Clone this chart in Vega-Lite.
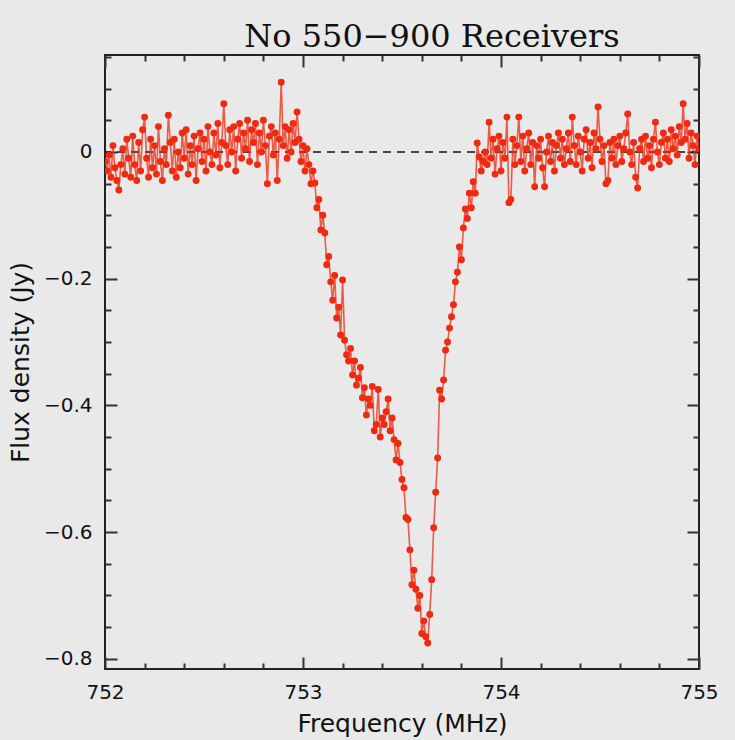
{
  "$schema": "https://vega.github.io/schema/vega-lite/v6.json",
  "width": 594,
  "height": 614,
  "autosize": {"type": "none"},
  "padding": {"left": 105, "top": 55, "right": 36, "bottom": 71},
  "background": "#e9e9e9",
  "title": {"text": "No 550\u2212900 Receivers", "font": "DejaVu Serif", "fontSize": 32, "fontWeight": "normal", "color": "#111111", "anchor": "middle", "dx": 30, "dy": 40, "offset": 8, "baseline": "alphabetic"},
  "config": {
    "view": {"fill": "#e9e9e9", "stroke": "#222222", "strokeWidth": 2},
    "axis": {"labelFont": "DejaVu Sans", "labelFontSize": 20, "labelColor": "#111111", "titleFont": "DejaVu Sans", "titleFontSize": 25, "titleFontWeight": "normal", "titleColor": "#111111", "tickColor": "#333333", "tickWidth": 2, "domain": false, "grid": false, "labelOverlap": false}
  },
  "datasets": {
    "zero": [{"y": 0}],
    "spec": [
      {"f":752.00,"s":-0.015},{"f":752.01,"s":-0.03},{"f":752.02,"s":-0.005},{"f":752.03,"s":-0.04},{"f":752.04,"s":0.01},
      {"f":752.05,"s":-0.025},{"f":752.06,"s":-0.045},{"f":752.07,"s":-0.06},{"f":752.08,"s":-0.02},{"f":752.09,"s":0.005},
      {"f":752.10,"s":-0.035},{"f":752.11,"s":0.02},{"f":752.12,"s":-0.01},{"f":752.13,"s":-0.04},{"f":752.14,"s":0.025},
      {"f":752.15,"s":-0.02},{"f":752.16,"s":-0.045},{"f":752.17,"s":0.015},{"f":752.18,"s":-0.03},{"f":752.19,"s":0.035},
      {"f":752.20,"s":0.055},{"f":752.21,"s":-0.01},{"f":752.22,"s":-0.04},{"f":752.23,"s":0.02},{"f":752.24,"s":-0.025},
      {"f":752.25,"s":0.01},{"f":752.26,"s":-0.035},{"f":752.27,"s":0.04},{"f":752.28,"s":-0.015},{"f":752.29,"s":-0.045},
      {"f":752.30,"s":0.005},{"f":752.31,"s":-0.02},{"f":752.32,"s":0.058},{"f":752.33,"s":0.015},{"f":752.34,"s":-0.03},
      {"f":752.35,"s":0.02},{"f":752.36,"s":-0.04},{"f":752.37,"s":0.0},{"f":752.38,"s":-0.025},{"f":752.39,"s":0.03},
      {"f":752.40,"s":-0.01},{"f":752.41,"s":0.035},{"f":752.42,"s":-0.035},{"f":752.43,"s":0.01},{"f":752.44,"s":-0.02},
      {"f":752.45,"s":0.025},{"f":752.46,"s":-0.045},{"f":752.47,"s":0.005},{"f":752.48,"s":0.03},{"f":752.49,"s":-0.015},
      {"f":752.50,"s":0.02},{"f":752.51,"s":-0.03},{"f":752.52,"s":0.04},{"f":752.53,"s":0.0},{"f":752.54,"s":-0.02},
      {"f":752.55,"s":0.03},{"f":752.56,"s":-0.005},{"f":752.57,"s":0.045},{"f":752.58,"s":-0.025},{"f":752.59,"s":0.015},
      {"f":752.60,"s":0.076},{"f":752.61,"s":0.01},{"f":752.62,"s":-0.02},{"f":752.63,"s":0.035},{"f":752.64,"s":0.0},
      {"f":752.65,"s":0.04},{"f":752.66,"s":-0.03},{"f":752.67,"s":0.02},{"f":752.68,"s":0.045},{"f":752.69,"s":-0.01},
      {"f":752.70,"s":0.03},{"f":752.71,"s":0.005},{"f":752.72,"s":0.05},{"f":752.73,"s":-0.015},{"f":752.74,"s":0.035},
      {"f":752.75,"s":0.015},{"f":752.76,"s":0.045},{"f":752.77,"s":-0.02},{"f":752.78,"s":0.03},{"f":752.79,"s":0.0},
      {"f":752.80,"s":0.05},{"f":752.81,"s":0.01},{"f":752.82,"s":-0.05},{"f":752.83,"s":0.025},{"f":752.84,"s":0.04},
      {"f":752.85,"s":-0.005},{"f":752.86,"s":0.03},{"f":752.87,"s":-0.045},{"f":752.88,"s":0.02},{"f":752.89,"s":0.11},
      {"f":752.90,"s":0.01},{"f":752.91,"s":0.04},{"f":752.92,"s":-0.01},{"f":752.93,"s":0.035},{"f":752.94,"s":0.0},
      {"f":752.95,"s":0.045},{"f":752.96,"s":0.015},{"f":752.97,"s":0.063},{"f":752.98,"s":0.02},{"f":752.99,"s":-0.015},
      {"f":753.00,"s":0.01},{"f":753.01,"s":-0.03},{"f":753.02,"s":0.005},{"f":753.03,"s":-0.02},{"f":753.04,"s":-0.05},
      {"f":753.05,"s":-0.03},{"f":753.06,"s":-0.049},{"f":753.07,"s":-0.088},{"f":753.08,"s":-0.075},{"f":753.09,"s":-0.123},
      {"f":753.10,"s":-0.10},{"f":753.11,"s":-0.128},{"f":753.12,"s":-0.178},{"f":753.13,"s":-0.165},{"f":753.14,"s":-0.205},
      {"f":753.15,"s":-0.234},{"f":753.16,"s":-0.195},{"f":753.17,"s":-0.262},{"f":753.18,"s":-0.245},{"f":753.19,"s":-0.289},
      {"f":753.20,"s":-0.202},{"f":753.21,"s":-0.297},{"f":753.22,"s":-0.32},{"f":753.23,"s":-0.33},{"f":753.24,"s":-0.31},
      {"f":753.25,"s":-0.352},{"f":753.26,"s":-0.33},{"f":753.27,"s":-0.368},{"f":753.28,"s":-0.357},{"f":753.29,"s":-0.34},
      {"f":753.30,"s":-0.388},{"f":753.31,"s":-0.372},{"f":753.32,"s":-0.415},{"f":753.33,"s":-0.39},{"f":753.34,"s":-0.40},
      {"f":753.35,"s":-0.37},{"f":753.36,"s":-0.44},{"f":753.37,"s":-0.43},{"f":753.38,"s":-0.375},{"f":753.39,"s":-0.45},
      {"f":753.40,"s":-0.42},{"f":753.41,"s":-0.43},{"f":753.42,"s":-0.41},{"f":753.43,"s":-0.39},{"f":753.44,"s":-0.44},
      {"f":753.45,"s":-0.42},{"f":753.46,"s":-0.454},{"f":753.47,"s":-0.486},{"f":753.48,"s":-0.46},{"f":753.49,"s":-0.49},
      {"f":753.50,"s":-0.517},{"f":753.51,"s":-0.53},{"f":753.52,"s":-0.577},{"f":753.53,"s":-0.58},{"f":753.54,"s":-0.628},
      {"f":753.55,"s":-0.683},{"f":753.56,"s":-0.66},{"f":753.57,"s":-0.69},{"f":753.58,"s":-0.72},{"f":753.59,"s":-0.70},
      {"f":753.60,"s":-0.76},{"f":753.61,"s":-0.74},{"f":753.62,"s":-0.765},{"f":753.63,"s":-0.775},{"f":753.64,"s":-0.73},
      {"f":753.65,"s":-0.675},{"f":753.66,"s":-0.593},{"f":753.67,"s":-0.537},{"f":753.68,"s":-0.483},{"f":753.69,"s":-0.376},
      {"f":753.70,"s":-0.39},{"f":753.71,"s":-0.36},{"f":753.72,"s":-0.313},{"f":753.73,"s":-0.30},{"f":753.74,"s":-0.278},
      {"f":753.75,"s":-0.26},{"f":753.76,"s":-0.241},{"f":753.77,"s":-0.205},{"f":753.78,"s":-0.19},{"f":753.79,"s":-0.15},
      {"f":753.80,"s":-0.17},{"f":753.81,"s":-0.12},{"f":753.82,"s":-0.09},{"f":753.83,"s":-0.105},{"f":753.84,"s":-0.065},
      {"f":753.85,"s":-0.088},{"f":753.86,"s":-0.047},{"f":753.87,"s":-0.065},{"f":753.88,"s":0.014},{"f":753.89,"s":-0.008},
      {"f":753.90,"s":-0.03},{"f":753.91,"s":-0.015},{"f":753.92,"s":0.0},{"f":753.93,"s":-0.02},{"f":753.94,"s":0.047},
      {"f":753.95,"s":-0.01},{"f":753.96,"s":0.02},{"f":753.97,"s":-0.035},{"f":753.98,"s":0.005},{"f":753.99,"s":0.025},
      {"f":754.00,"s":-0.03},{"f":754.01,"s":0.015},{"f":754.02,"s":-0.01},{"f":754.03,"s":0.055},{"f":754.04,"s":-0.08},
      {"f":754.05,"s":-0.075},{"f":754.06,"s":0.02},{"f":754.07,"s":-0.02},{"f":754.08,"s":0.01},{"f":754.09,"s":0.055},
      {"f":754.10,"s":-0.015},{"f":754.11,"s":0.025},{"f":754.12,"s":-0.03},{"f":754.13,"s":0.005},{"f":754.14,"s":0.03},
      {"f":754.15,"s":-0.02},{"f":754.16,"s":0.015},{"f":754.17,"s":-0.055},{"f":754.18,"s":0.01},{"f":754.19,"s":-0.01},
      {"f":754.20,"s":0.02},{"f":754.21,"s":-0.025},{"f":754.22,"s":-0.055},{"f":754.23,"s":0.0},{"f":754.24,"s":0.025},
      {"f":754.25,"s":-0.015},{"f":754.26,"s":0.015},{"f":754.27,"s":-0.03},{"f":754.28,"s":0.01},{"f":754.29,"s":0.03},
      {"f":754.30,"s":-0.01},{"f":754.31,"s":0.02},{"f":754.32,"s":-0.02},{"f":754.33,"s":0.005},{"f":754.34,"s":0.03},
      {"f":754.35,"s":-0.015},{"f":754.36,"s":0.055},{"f":754.37,"s":0.01},{"f":754.38,"s":-0.02},{"f":754.39,"s":0.025},
      {"f":754.40,"s":0.0},{"f":754.41,"s":-0.03},{"f":754.42,"s":0.02},{"f":754.43,"s":0.035},{"f":754.44,"s":-0.01},
      {"f":754.45,"s":0.015},{"f":754.46,"s":-0.025},{"f":754.47,"s":0.03},{"f":754.48,"s":0.005},{"f":754.49,"s":0.071},
      {"f":754.50,"s":0.02},{"f":754.51,"s":-0.015},{"f":754.52,"s":0.01},{"f":754.53,"s":-0.05},{"f":754.54,"s":-0.045},
      {"f":754.55,"s":0.015},{"f":754.56,"s":-0.01},{"f":754.57,"s":0.02},{"f":754.58,"s":-0.02},{"f":754.59,"s":0.01},
      {"f":754.60,"s":0.025},{"f":754.61,"s":-0.015},{"f":754.62,"s":0.005},{"f":754.63,"s":0.03},{"f":754.64,"s":0.06},
      {"f":754.65,"s":0.0},{"f":754.66,"s":-0.02},{"f":754.67,"s":0.015},{"f":754.68,"s":-0.04},{"f":754.69,"s":-0.057},
      {"f":754.70,"s":0.005},{"f":754.71,"s":0.02},{"f":754.72,"s":-0.015},{"f":754.73,"s":0.025},{"f":754.74,"s":-0.01},
      {"f":754.75,"s":0.01},{"f":754.76,"s":-0.025},{"f":754.77,"s":0.02},{"f":754.78,"s":0.047},{"f":754.79,"s":0.0},
      {"f":754.80,"s":-0.02},{"f":754.81,"s":0.015},{"f":754.82,"s":0.03},{"f":754.83,"s":-0.01},{"f":754.84,"s":0.02},
      {"f":754.85,"s":-0.015},{"f":754.86,"s":0.035},{"f":754.87,"s":0.005},{"f":754.88,"s":0.025},{"f":754.89,"s":-0.005},
      {"f":754.90,"s":0.04},{"f":754.91,"s":0.015},{"f":754.92,"s":0.076},{"f":754.93,"s":0.02},{"f":754.94,"s":0.045},
      {"f":754.95,"s":-0.01},{"f":754.96,"s":0.03},{"f":754.97,"s":0.01},{"f":754.98,"s":-0.02},{"f":754.99,"s":0.025},
      {"f":755.00,"s":0.005}
    ]
  },
  "layer": [
    {
      "data": {"name": "zero"},
      "mark": {"type": "rule", "color": "#111111", "strokeWidth": 1.6, "strokeDash": [8, 6]},
      "encoding": {
        "y": {"field": "y", "type": "quantitative", "scale": {"domain": [-0.816, 0.153], "nice": false, "zero": false}, "axis": null}
      }
    },
    {
      "data": {"name": "spec"},
      "mark": {"type": "line", "color": "#ee2a10", "strokeWidth": 1.6, "opacity": 0.75, "clip": true},
      "encoding": {
        "x": {"field": "f", "type": "quantitative", "scale": {"domain": [752, 755], "nice": false, "zero": false},
          "axis": {"orient": "bottom", "title": "Frequency (MHz)", "titlePadding": 3, "tickCount": 16,
            "values": [752, 752.2, 752.4, 752.6, 752.8, 753, 753.2, 753.4, 753.6, 753.8, 754, 754.2, 754.4, 754.6, 754.8, 755],
            "labelPadding": 25, "labelFlush": false,
            "labelExpr": "abs(datum.value - round(datum.value)) < 0.001 ? format(datum.value, '.0f') : ''",
            "tickSize": {"condition": {"test": "abs(datum.value - round(datum.value)) < 0.001", "value": -12}, "value": -6}}},
        "y": {"field": "s", "type": "quantitative", "scale": {"domain": [-0.816, 0.153], "nice": false, "zero": false},
          "axis": {"orient": "left", "title": "Flux density (Jy)", "titlePadding": 10, "tickCount": 20,
            "values": [-0.8, -0.75, -0.7, -0.65, -0.6, -0.55, -0.5, -0.45, -0.4, -0.35, -0.3, -0.25, -0.2, -0.15, -0.1, -0.05, 0, 0.05, 0.1, 0.15],
            "format": ".1~f", "labelPadding": 25, "labelFlush": false,
            "labelExpr": "abs(datum.value*5 - round(datum.value*5)) < 0.001 ? datum.label : ''",
            "tickSize": {"condition": {"test": "abs(datum.value*5 - round(datum.value*5)) < 0.001", "value": -12}, "value": -6}}}
      }
    },
    {
      "data": {"name": "spec"},
      "mark": {"type": "point", "filled": true, "color": "#ee2a10", "size": 48, "opacity": 1, "clip": true},
      "encoding": {
        "x": {"field": "f", "type": "quantitative",
          "axis": {"orient": "top", "title": null, "labels": false, "tickCount": 16,
            "values": [752, 752.2, 752.4, 752.6, 752.8, 753, 753.2, 753.4, 753.6, 753.8, 754, 754.2, 754.4, 754.6, 754.8, 755],
            "tickSize": {"condition": {"test": "abs(datum.value - round(datum.value)) < 0.001", "value": -12}, "value": -6}}},
        "y": {"field": "s", "type": "quantitative",
          "axis": {"orient": "right", "title": null, "labels": false, "tickCount": 20,
            "values": [-0.8, -0.75, -0.7, -0.65, -0.6, -0.55, -0.5, -0.45, -0.4, -0.35, -0.3, -0.25, -0.2, -0.15, -0.1, -0.05, 0, 0.05, 0.1, 0.15],
            "tickSize": {"condition": {"test": "abs(datum.value*5 - round(datum.value*5)) < 0.001", "value": -12}, "value": -6}}}
      }
    }
  ]
}
